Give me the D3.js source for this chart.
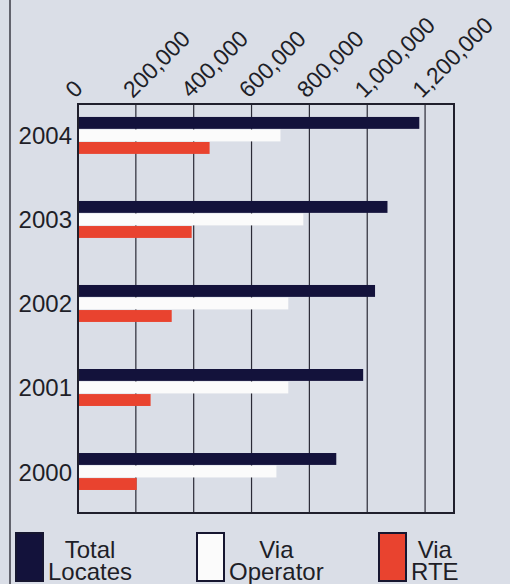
<!DOCTYPE html>
<html>
<head>
<meta charset="utf-8">
<script src="https://cdnjs.cloudflare.com/ajax/libs/d3/7.8.5/d3.min.js"></script>
<style>
  body { margin: 0; background: #dadee7; }
  svg { display: block; }
  text { font-family: "Liberation Sans", Arial, sans-serif; fill: #1e1e28; }
</style>
</head>
<body>
<div id="chart"></div>
<script>
// data
var years = ["2004", "2003", "2002", "2001", "2000"];
var series = ["Total Locates", "Via Operator", "Via RTE"];
var totalLocates = [1180000, 1070000, 1027000, 986000, 893000];
var viaOperator = [700000, 779000, 727000, 727000, 686000];
var viaRTE = [455000, 393000, 324000, 251000, 203000];
var tickValues = [0, 200000, 400000, 600000, 800000, 1000000, 1200000];
var legendLines = [["Total", "Locates"], ["Via", "Operator"], ["Via", "RTE"]];

var width = 510, height = 584;
var colors = ["#13123b", "#fbfbfb", "#e9432f"];

var svg = d3.select("#chart").append("svg")
  .attr("width", width)
  .attr("height", height);

svg.append("rect")
  .attr("width", width).attr("height", height)
  .attr("fill", "#dadee7");

// left edge rule of the page
svg.append("line")
  .attr("x1", 10).attr("x2", 10)
  .attr("y1", 0).attr("y2", height)
  .attr("stroke", "#3a3a44").attr("stroke-width", 1.5);

var plot = { left: 78, right: 454, top: 104, bottom: 513 };

var x = d3.scaleLinear()
  .domain([0, 1300000])
  .range([plot.left, plot.right]);

var y0 = d3.scaleBand()
  .domain(years)
  .range([plot.top, plot.bottom])
  .paddingInner(0.56)
  .paddingOuter(0.214)
  .align(0.36);

var y1 = d3.scaleBand()
  .domain(series)
  .range([0, y0.bandwidth()])
  .paddingInner(0.05);

// gridlines
svg.append("g").selectAll("line")
  .data(tickValues.slice(1))
  .enter().append("line")
  .attr("x1", function(d) { return x(d); })
  .attr("x2", function(d) { return x(d); })
  .attr("y1", plot.top)
  .attr("y2", plot.bottom)
  .attr("stroke", "#2a2a36")
  .attr("stroke-width", 1.2);

// bars
var rows = years.map(function(yr, i) {
  return { year: yr, values: [totalLocates[i], viaOperator[i], viaRTE[i]] };
});

var groups = svg.append("g").selectAll("g")
  .data(rows)
  .enter().append("g")
  .attr("transform", function(d) { return "translate(0," + y0(d.year) + ")"; });

groups.selectAll("rect")
  .data(function(d) {
    return d.values.map(function(v, j) { return { key: series[j], value: v, idx: j }; });
  })
  .enter().append("rect")
  .attr("x", x(0))
  .attr("y", function(d) { return y1(d.key); })
  .attr("height", y1.bandwidth())
  .attr("width", function(d) { return x(d.value) - x(0); })
  .attr("fill", function(d) { return colors[d.idx]; });

// frame
svg.append("rect")
  .attr("x", plot.left).attr("y", plot.top)
  .attr("width", plot.right - plot.left)
  .attr("height", plot.bottom - plot.top)
  .attr("fill", "none")
  .attr("stroke", "#1f1f2c")
  .attr("stroke-width", 2);

// rotated tick labels on top
svg.append("g").selectAll("text")
  .data(tickValues)
  .enter().append("text")
  .attr("transform", function(d) { return "translate(" + (x(d) - 3) + "," + (plot.top - 5) + ") rotate(-45)"; })
  .attr("font-size", 23)
  .text(function(d) { return d3.format(",")(d); });

// year labels
svg.append("g").selectAll("text")
  .data(years)
  .enter().append("text")
  .attr("x", plot.left - 6)
  .attr("y", function(d) { return y0(d) + y0.bandwidth() / 2 + 9; })
  .attr("text-anchor", "end")
  .attr("font-size", 24)
  .text(function(d) { return d; });

// legend
var legendX = [16, 197, 379];
var legend = svg.append("g").selectAll("g")
  .data(series)
  .enter().append("g")
  .attr("transform", function(d, i) { return "translate(" + legendX[i] + ",533)"; });

legend.append("rect")
  .attr("width", 27).attr("height", 48)
  .attr("fill", function(d, i) { return colors[i]; })
  .attr("stroke", "#161630")
  .attr("stroke-width", 2);

legend.each(function(d, i) {
  var g = d3.select(this);
  var t = g.append("text")
    .attr("font-size", 24)
    .attr("text-anchor", "middle");
  t.append("tspan").attr("y", 25).text(legendLines[i][0]);
  t.append("tspan").attr("y", 47).text(legendLines[i][1]);
  var w = d3.max(t.selectAll("tspan").nodes(), function(n) { return n.getComputedTextLength(); });
  t.selectAll("tspan").attr("x", 32 + w / 2);
});
</script>
</body>
</html>
